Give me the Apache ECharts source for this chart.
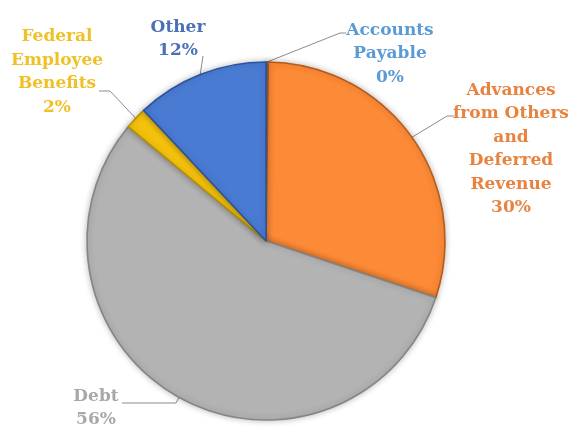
<!DOCTYPE html>
<html>
<head>
<meta charset="utf-8">
<script src="https://cdn.jsdelivr.net/npm/echarts@6/dist/echarts.min.js"></script>
<style>
html,body{margin:0;padding:0;background:#fff;}
#main{width:575px;height:432px;}
</style>
</head>
<body>
<div id="main"></div>
<script>
// Data
const categories = ['Accounts\nPayable', 'Advances\nfrom Others\nand\nDeferred\nRevenue', 'Debt', 'Federal\nEmployee\nBenefits', 'Other'];
const percentLabels = ['0%', '30%', '56%', '2%', '12%'];
const values = [0.2, 30, 56, 2, 12];

// Styles
const sliceColors = ['#5B9BD5', '#FC8A36', '#B3B3B3', '#F4C20D', '#4A7BD3'];
const sliceBorders = ['#3F77AA', '#B85A18', '#858585', '#B89000', '#2A54A0'];
const labelColors = ['#5B9BD5', '#E8833F', '#A8A8A8', '#F0C127', '#4A70B8'];
// label placement (layout only): centre of text block, line elbow and end
const labelPos = [
  {x: 390, y: 54, elbow: [340, 33], end: [346, 33]},
  {x: 511, y: 149, elbow: [447, 116], end: [454, 116]},
  {x: 96, y: 408, elbow: [176, 403], end: [122, 403]},
  {x: 57, y: 72, elbow: [110, 91], end: [99, 91]},
  {x: 178, y: 39, elbow: [203, 56], end: [203, 56]}
];

const chart = echarts.init(document.getElementById('main'), null, {renderer: 'canvas'});
const data = values.map((v, i) => ({
  name: categories[i],
  value: v,
  itemStyle: {color: sliceColors[i], borderColor: sliceBorders[i], borderWidth: 1.6},
  label: {color: labelColors[i], formatter: categories[i] + '\n' + percentLabels[i]}
}));

chart.setOption({
  animation: false,
  backgroundColor: '#ffffff',
  series: [{
    type: 'pie',
    center: [266, 241],
    radius: 179,
    startAngle: 90,
    clockwise: true,
    data: data,
    itemStyle: {shadowBlur: 6, shadowColor: 'rgba(0,0,0,0.25)'},
    label: {
      show: true,
      position: 'outside',
      fontFamily: 'DejaVu Serif',
      fontWeight: 'bold',
      fontSize: 17,
      lineHeight: 23.5,
      align: 'center',
      overflow: 'none',
      edgeDistance: 0
    },
    labelLine: {
      show: true,
      length: 10,
      length2: 10,
      lineStyle: {color: '#8C8C8C', width: 1}
    },
    labelLayout: function (params) {
      const p = labelPos[params.dataIndex];
      const anchor = params.labelLinePoints ? params.labelLinePoints[0] : p.elbow;
      return {
        x: p.x,
        y: p.y,
        align: 'center',
        verticalAlign: 'middle',
        labelLinePoints: [anchor, p.elbow, p.end]
      };
    }
  }]
});
</script>
</body>
</html>
